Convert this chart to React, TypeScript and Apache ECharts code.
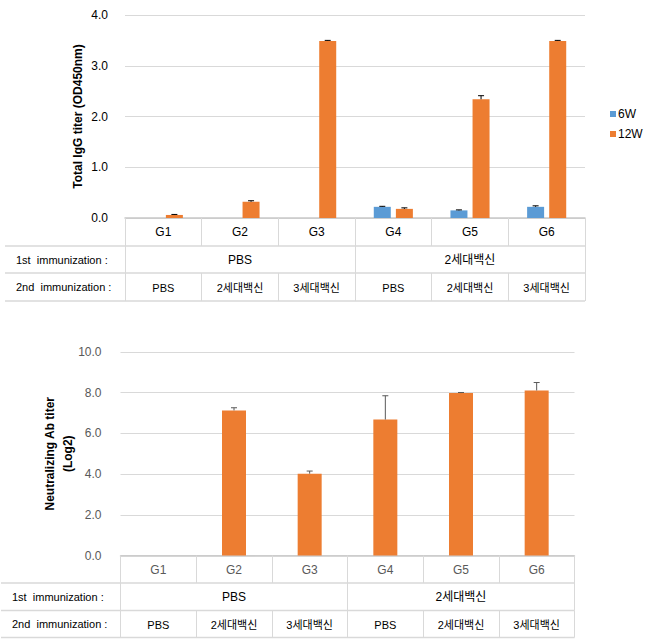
import React, { useEffect, useRef } from "react";
import * as echarts from "echarts";

const categories = ["G1", "G2", "G3", "G4", "G5", "G6"];
const firstImm = ["PBS", "2세대백신"];
const secondImm = ["PBS", "2세대백신", "3세대백신", "PBS", "2세대백신", "3세대백신"];
const seriesNames = ["6W", "12W"];
const igg6W = [null, null, null, 0.22, 0.15, 0.22];
const igg6WErr = [null, null, null, 0.01, 0.01, 0.02];
const igg12W = [0.06, 0.32, 3.49, 0.18, 2.34, 3.49];
const igg12WErr = [0.01, 0.02, 0.01, 0.02, 0.07, 0.01];
const neut = [null, 7.13, 4.02, 6.68, 7.98, 8.11];
const neutErr = [null, 0.13, 0.13, 1.17, 0.03, 0.39];
const iggTicks = { min: 0, max: 4, interval: 1 };
const neutTicks = { min: 0, max: 10, interval: 2 };

const FONT = "'Liberation Sans', 'Noto Sans CJK KR', sans-serif";
const BORDER = "#d9d9d9";
const BLUE = "#5b9bd5";
const ORANGE = "#ed7d31";

// layout
const W = 652;
const H = 640;
const G1 = { left: 125, width: 460, top: 15, height: 203, rows: [28, 27, 28], tableLeft: 5 };
const G2 = { left: 120.5, width: 454, top: 352, height: 203.5, rows: [27.5, 27.5, 27], tableLeft: 1 };
const BW1 = 17;
const GAP1 = 0.3;
const BW2 = 24;

function errSeries(values: (number | null)[], errs: (number | null)[], gridIdx: number, offset: number, color: string, cap: number) {
  const data: number[][] = [];
  values.forEach((v, i) => {
    const e = errs[i];
    if (v != null && e != null) data.push([i, v, e]);
  });
  return {
    type: "custom",
    xAxisIndex: gridIdx === 0 ? 0 : 3,
    yAxisIndex: gridIdx,
    z: 5,
    silent: true,
    data,
    renderItem: (params: any, api: any) => {
      const i = api.value(0);
      const v = api.value(1);
      const e = api.value(2);
      const p0 = api.coord([i, v]);
      const p1 = api.coord([i, v + e]);
      const x = p0[0] + offset;
      return {
        type: "group",
        children: [
          { type: "line", shape: { x1: x, y1: p0[1], x2: x, y2: p1[1] }, style: { stroke: color, lineWidth: 1 } },
          { type: "line", shape: { x1: x - cap, y1: p1[1], x2: x + cap, y2: p1[1] }, style: { stroke: color, lineWidth: 1 } },
        ],
      };
    },
  };
}

function tableAxes(g: any, gridIndex: number, labelColor: string, axisColor: string) {
  const base = {
    type: "category",
    gridIndex,
    position: "bottom",
    boundaryGap: true,
    axisTick: { show: true, length: 0, lineStyle: { color: BORDER } },
    splitLine: { show: false },
  };
  return [
    {
      ...base,
      data: categories,
      axisLine: { show: true, lineStyle: { color: axisColor, width: 1.5 } },
      axisTick: { show: true, length: g.rows[0], lineStyle: { color: BORDER } },
      axisLabel: { margin: 8, fontSize: 12, color: labelColor, fontFamily: FONT },
    },
    {
      ...base,
      data: firstImm,
      offset: g.rows[0],
      axisLine: { show: false },
      axisTick: { show: true, length: g.rows[1], lineStyle: { color: BORDER } },
      axisLabel: { margin: 8, fontSize: 12, color: "#000", fontFamily: FONT },
    },
    {
      ...base,
      data: secondImm,
      offset: g.rows[0] + g.rows[1],
      axisLine: { show: false },
      axisTick: { show: true, length: g.rows[2], lineStyle: { color: BORDER } },
      axisLabel: { margin: 9, fontSize: 11, color: "#000", fontFamily: FONT },
    },
  ];
}

function tableGraphics(g: any) {
  const bottom = g.top + g.height;
  const right = g.left + g.width;
  const els: any[] = [];
  let y = bottom;
  const ys: number[] = [];
  g.rows.forEach((r: number) => {
    y += r;
    ys.push(y);
  });
  ys.forEach((yy) => {
    els.push({ type: "line", shape: { x1: g.tableLeft, y1: yy, x2: right, y2: yy }, style: { stroke: BORDER, lineWidth: 1.5 }, silent: true });
  });
  const labels = ["1st  immunization :", "2nd  immunization :"];
  labels.forEach((t, k) => {
    const yc = ys[k] + g.rows[k + 1] / 2;
    els.push({
      type: "text",
      x: g.tableLeft + 11,
      y: yc,
      style: { text: t, fontSize: 11, fill: "#000", fontFamily: FONT, verticalAlign: "middle", align: "left" },
      silent: true,
    });
  });
  return els;
}

export default function App() {
  const ref = useRef<HTMLDivElement>(null);
  useEffect(() => {
    if (!ref.current) return;
    const chart = echarts.init(ref.current, undefined, { renderer: "svg" });
    const off = (BW1 + BW1 * GAP1) / 2;
    const option: any = {
      animation: false,
      backgroundColor: "#fff",
      textStyle: { fontFamily: FONT },
      grid: [
        { left: G1.left, top: G1.top, width: G1.width, height: G1.height, containLabel: false },
        { left: G2.left, top: G2.top, width: G2.width, height: G2.height, containLabel: false },
      ],
      legend: {
        data: seriesNames,
        orient: "vertical",
        left: 605,
        top: 103,
        itemWidth: 6,
        itemHeight: 6,
        itemGap: 8,
        icon: "rect",
        textStyle: { fontSize: 12, color: "#000", fontFamily: FONT, padding: [0, 0, 0, -3] },
      },
      xAxis: [...tableAxes(G1, 0, "#000", "#c8c8c8"), ...tableAxes(G2, 1, "#595959", "#c8c8c8")],
      yAxis: [
        {
          type: "value",
          gridIndex: 0,
          ...iggTicks,
          name: "Total IgG titer (OD450nm)",
          nameLocation: "middle",
          nameRotate: 90,
          nameGap: 41,
          nameMoveOverlap: false,
          nameTextStyle: { fontSize: 12, fontWeight: "bold", color: "#000", fontFamily: FONT },
          axisLine: { show: false },
          axisTick: { show: false },
          axisLabel: { margin: 17, fontSize: 12, color: "#000", fontFamily: FONT, formatter: (v: number) => v.toFixed(1) },
          splitLine: { lineStyle: { color: BORDER } },
        },
        {
          type: "value",
          gridIndex: 1,
          ...neutTicks,
          name: "Neutralizing Ab titer\n(Log2)",
          nameLocation: "middle",
          nameRotate: 90,
          nameGap: 44,
          nameMoveOverlap: false,
          nameTextStyle: { fontSize: 12, fontWeight: "bold", color: "#000", fontFamily: FONT, lineHeight: 18, align: "center" },
          axisLine: { show: false },
          axisTick: { show: false },
          axisLabel: { margin: 19, fontSize: 12, color: "#595959", fontFamily: FONT, formatter: (v: number) => v.toFixed(1) },
          splitLine: { lineStyle: { color: BORDER } },
        },
      ],
      series: [
        { name: "6W", type: "bar", xAxisIndex: 0, yAxisIndex: 0, data: igg6W, barWidth: BW1, barGap: "30%", itemStyle: { color: BLUE } },
        { name: "12W", type: "bar", xAxisIndex: 0, yAxisIndex: 0, data: igg12W, barWidth: BW1, barGap: "30%", itemStyle: { color: ORANGE } },
        errSeries(igg6W, igg6WErr, 0, -off, "#000", 3),
        errSeries(igg12W, igg12WErr, 0, off, "#000", 3),
        { name: "Neutralizing Ab titer", type: "bar", xAxisIndex: 3, yAxisIndex: 1, data: neut, barWidth: BW2, itemStyle: { color: ORANGE } },
        errSeries(neut, neutErr, 1, 0, "#595959", 3),
      ],
      graphic: [...tableGraphics(G1), ...tableGraphics(G2)],
    };
    chart.setOption(option);
    return () => chart.dispose();
  }, []);
  return <div ref={ref} style={{ position: "fixed", left: 0, top: 0, width: W, height: H }} />;
}
